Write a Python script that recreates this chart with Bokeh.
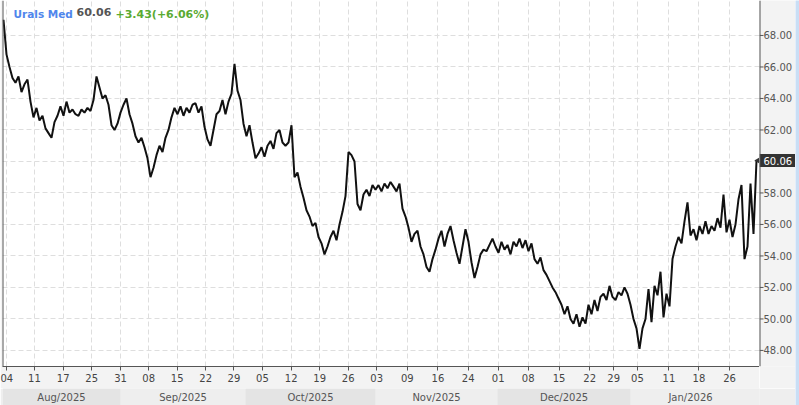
from bokeh.plotting import figure
from bokeh.models import (FixedTicker, Label, Range1d, PrintfTickFormatter, ColumnDataSource,
                          Grid, Span)
from bokeh.layouts import row, column
from bokeh.embed import file_html
from bokeh.resources import INLINE
from bokeh.core.properties import value
import math

# ---------------- data ----------------
price = [
    69.0, 66.8, 66.0, 65.3, 65.0, 65.4, 64.4, 64.9, 65.2, 63.8,
    62.8, 63.4, 62.6, 62.9, 62.1, 61.8, 61.5, 62.5, 62.9, 63.5,
    62.9, 63.8, 63.1, 63.3, 63.0, 62.9, 63.3, 63.1, 63.4, 63.2,
    63.9, 65.4, 64.7, 64.0, 64.2, 63.6, 62.3, 62.0, 62.4, 63.1,
    63.6, 64.0, 63.0, 62.4, 61.6, 61.2, 61.5, 60.9, 60.2, 59.0,
    59.6, 60.4, 61.0, 60.6, 61.5, 62.0, 62.8, 63.4, 63.0, 63.5,
    62.9, 63.4, 63.1, 63.6, 63.7, 63.1, 63.5, 62.2, 61.4, 61.0,
    62.0, 63.0, 63.2, 63.9, 63.0, 63.8, 64.3, 66.2, 64.5, 63.9,
    62.4, 61.6, 62.3, 61.2, 60.2, 60.5, 60.9, 60.3, 61.0, 61.3,
    60.8, 61.8, 62.0, 61.2, 61.0, 61.2, 62.3, 59.0, 59.3, 58.4,
    57.7, 56.9, 56.5, 55.9, 56.1, 55.2, 54.8, 54.1, 54.6, 55.2,
    55.6, 55.0, 56.0, 56.8, 57.8, 60.6, 60.4, 60.0, 57.3, 56.9,
    57.9, 58.2, 57.8, 58.5, 58.2, 58.5, 58.1, 58.6, 58.3, 58.7,
    58.4, 58.1, 58.6, 57.0, 56.5, 55.8, 54.9, 55.4, 55.6, 54.6,
    54.1, 53.3, 53.0, 53.8, 54.4, 55.1, 55.6, 54.6, 55.4, 55.9,
    55.0, 54.2, 53.5, 54.6, 55.7, 54.9, 53.6, 52.6, 53.3, 54.1,
    54.4, 54.3, 54.7, 55.1, 54.6, 54.2, 54.9, 54.4, 54.7, 54.1,
    54.9, 54.6, 55.1, 54.5, 55.0, 54.3, 54.8, 53.8, 53.5, 53.9,
    53.1, 52.8, 52.4, 52.0, 51.7, 51.3, 50.9, 50.3, 50.8, 50.0,
    49.7, 50.3, 49.5, 50.1, 49.7, 50.9, 50.3, 51.2, 50.5, 51.4,
    51.6, 51.2, 52.1, 51.4, 51.2, 51.7, 51.5, 52.0, 51.6, 50.9,
    50.0, 49.4, 48.1, 49.4, 50.0, 51.9, 49.8, 52.1, 51.5, 53.0,
    50.1, 51.6, 50.8, 53.8, 54.6, 55.2, 54.8, 56.2, 57.4, 55.3,
    55.7, 55.0, 55.9, 55.4, 56.2, 55.4, 55.9, 55.6, 56.4, 55.8,
    57.9, 55.5, 56.3, 55.2, 56.0, 57.6, 58.5, 53.8, 54.6, 58.6,
    55.4, 60.06,
]
bars = list(range(len(price)))

day_tick_pos = [0.9, 10.3, 19.9, 29.4, 39.0, 48.4, 57.9, 67.4, 76.8, 86.3,
                95.9, 105.4, 114.9, 124.4, 134.6, 144.8, 154.9, 164.9, 174.9, 185.2,
                195.4, 203.4, 211.3, 221.8, 231.8, 242.0]
day_tick_labels = ["04", "11", "17", "25", "31", "08", "15", "22", "29", "05",
                   "12", "19", "26", "03", "09", "16", "24", "01", "08", "15",
                   "22", "29", "05", "11", "18", "26"]

month_labels = ["Aug/2025", "Sep/2025", "Oct/2025", "Nov/2025", "Dec/2025", "Jan/2026"]
month_start = [-0.33, 39.0, 80.7, 124.0, 164.7, 209.0]
month_end = [39.0, 80.7, 124.0, 164.7, 209.0, 252.0]
month_label_end = [39.0, 80.7, 124.0, 164.7, 209.0, 249.0]
month_colors = ["#e4e4e4", "#eeeeee", "#e4e4e4", "#eeeeee", "#e4e4e4", "#eeeeee"]

price_ticks = [48, 50, 52, 54, 56, 58, 60, 62, 64, 66, 68]
price_tick_labels = ["%.2f" % t for t in price_ticks]
last_price = 60.06
title_name = "Urals Med"
title_last = "60.06"
title_change = "+3.43(+6.06%)"

X_START, X_END = -0.33, 252.0
Y_START, Y_END = 46.98, 70.22

FONT = "DejaVu Sans"
AXIS_COLOR = "#555555"
FRAME_W, FRAME_H = 757, 366
AXIS_W = 36
PANEL_BG = "#f3f3f3"

# ---------------- main figure ----------------
p = figure(width=2 + FRAME_W, height=FRAME_H + 22, output_backend="svg", toolbar_location=None,
           x_range=Range1d(X_START, X_END), y_range=Range1d(Y_START, Y_END),
           y_axis_location=None,
           min_border_left=2, min_border_right=0, min_border_top=0, min_border_bottom=22,
           background_fill_color="white", border_fill_color=PANEL_BG,
           outline_line_color=None)

# bottom day axis
xa = p.xaxis[0]
xticker = FixedTicker(ticks=day_tick_pos)
xa.ticker = xticker
xa.major_label_overrides = {t: l for t, l in zip(day_tick_pos, day_tick_labels)}
xa.major_tick_out = 4
xa.major_tick_in = 0
xa.minor_tick_line_color = None
xa.axis_line_color = AXIS_COLOR
xa.major_tick_line_color = AXIS_COLOR
xa.major_label_text_font = FONT
xa.major_label_text_font_size = "10px"
xa.major_label_text_color = "#444444"
xa.major_label_standoff = 3

# grids
p.xgrid.ticker = xticker
p.xgrid.grid_line_color = "#dedede"
p.xgrid.grid_line_dash = "5 3"
p.ygrid.visible = False
p.add_layout(Grid(dimension=1, ticker=FixedTicker(ticks=price_ticks),
                  grid_line_color="#dedede", grid_line_dash="5 3"))

# left frame border
p.add_layout(Span(location=X_START, dimension="height", line_color=AXIS_COLOR, line_width=2))

p.line(x=bars, y=price, line_color="#111111", line_width=2.0)

# pointer of the last-price tag
p.scatter(x=[X_END], y=[last_price], marker="triangle", angle=math.pi / 2, size=9,
          fill_color="#333333", line_color=None)

# title (screen units relative to frame bottom-left)
TY = FRAME_H - 7
p.add_layout(Label(x=11, y=TY, x_units="screen", y_units="screen", text=title_name,
                   text_font=FONT, text_font_style="bold", text_font_size="10.5px",
                   text_color="#4f86ec", text_baseline="top"))
p.add_layout(Label(x=74, y=TY, x_units="screen", y_units="screen", text=title_last,
                   text_font=FONT, text_font_style="bold", text_font_size="11px",
                   text_color="#555555", text_baseline="top"))
p.add_layout(Label(x=113, y=TY, x_units="screen", y_units="screen", text=title_change,
                   text_font=FONT, text_font_style="bold", text_font_size="11px",
                   text_color="#5aaa32", text_baseline="top"))

# ---------------- right price scale ----------------
r = figure(width=AXIS_W, height=FRAME_H + 22, output_backend="svg", toolbar_location=None,
           x_range=Range1d(0, AXIS_W), y_range=p.y_range,
           x_axis_location=None, y_axis_location=None,
           min_border_left=0, min_border_right=0, min_border_top=0, min_border_bottom=22,
           outline_line_color=None, border_fill_color=PANEL_BG, background_fill_color=PANEL_BG)
r.grid.visible = False
r.add_layout(Span(location=0, dimension="height", line_color=AXIS_COLOR, line_width=2))
tsrc = ColumnDataSource(dict(y=price_ticks, label=price_tick_labels))
r.segment(x0=0, x1=4, y0="y", y1="y", source=tsrc, line_color=AXIS_COLOR, line_width=1)
r.text(x=4, y="y", text="label", source=tsrc, text_align="left", text_baseline="middle",
       text_font=value(FONT), text_font_size="10px", text_color="#555555")
# last-price tag
r.rect(x=[AXIS_W / 2], y=[last_price], width=AXIS_W, height=13,
       width_units="screen", height_units="screen", fill_color="#333333", line_color=None)
r.text(x=[4], y=[last_price], text=[f"{last_price:.2f}"], text_align="left", text_baseline="middle",
       text_font=value(FONT), text_font_size="10px", text_color="white")

# ---------------- month band ----------------
b = figure(width=2 + FRAME_W + AXIS_W, height=17, output_backend="svg", toolbar_location=None,
           x_range=p.x_range, y_range=Range1d(0, 1),
           x_axis_location=None, y_axis_location=None,
           min_border_left=2, min_border_right=AXIS_W, min_border_top=0, min_border_bottom=0,
           outline_line_color=None, border_fill_color="#eeeeee", background_fill_color="#eeeeee")
b.grid.visible = False
bsrc = ColumnDataSource(dict(
    left=month_start, right=month_end, color=month_colors, label=month_labels,
    center=[(a + c) / 2 for a, c in zip(month_start, month_label_end)],
))
b.quad(left="left", right="right", bottom=0, top=1, fill_color="color", line_color=None, source=bsrc)
b.text(x="center", y=0.5, text="label", source=bsrc, text_align="center", text_baseline="middle",
       text_font=value(FONT), text_font_size="10px", text_color="#555555")

# ---------------- right edge strip ----------------
s = figure(width=4, height=405, output_backend="svg", toolbar_location=None,
           x_axis_location=None, y_axis_location=None,
           min_border_left=0, min_border_right=0, min_border_top=0, min_border_bottom=0,
           outline_line_color=None, border_fill_color="#c9def5", background_fill_color="#c9def5")
s.grid.visible = False

layout = row(column(row(p, r, spacing=0), b, spacing=0), s, spacing=0)

open("out.html", "w").write(file_html(layout, INLINE))
